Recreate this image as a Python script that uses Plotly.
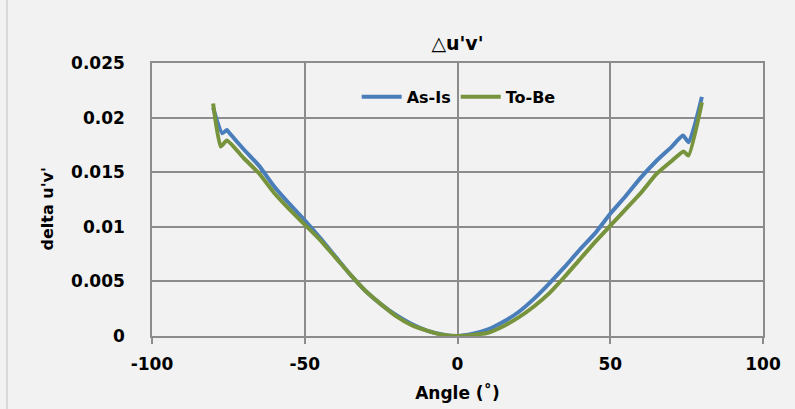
import plotly.graph_objects as go

# Angle (degrees) and delta u'v' values
as_is_angle = [-80, -77, -75.5, -75, -70, -65, -60, -55, -50, -45, -40, -35, -30, -25, -20, -15, -10, -5, 0,
               5, 10, 15, 20, 25, 30, 35, 40, 45, 50, 55, 60, 65, 70, 73.8, 75.7, 80]
as_is_val = [0.0209, 0.01856, 0.01887, 0.0187, 0.0171, 0.0156, 0.0137, 0.0121, 0.0106, 0.0090, 0.0073, 0.0056,
             0.0041, 0.0029, 0.0019, 0.0011, 0.0005, 0.00015, 0.0,
             0.0002, 0.0006, 0.0013, 0.0022, 0.0034, 0.0048, 0.0063, 0.0079, 0.0094, 0.0112, 0.0128, 0.0145,
             0.0160, 0.0173, 0.01835, 0.01774, 0.0219]

to_be_angle = [-80, -77.5, -75.5, -70, -65, -60, -55, -50, -45, -40, -35, -30, -25, -20, -15, -10, -5, 0,
               5, 10, 15, 20, 25, 30, 35, 40, 45, 50, 55, 60, 65, 70, 74, 75.6, 80]
to_be_val = [0.0213, 0.01735, 0.0179, 0.0163, 0.0149, 0.0131, 0.0116, 0.0102, 0.0088, 0.0072, 0.0056, 0.0041,
             0.0029, 0.0018, 0.0010, 0.0005, 0.00012, 0.0,
             0.0001, 0.0003, 0.0009, 0.0017, 0.0027, 0.0039, 0.0054, 0.0070, 0.0086, 0.0101, 0.0116, 0.0131,
             0.0148, 0.0160, 0.0169, 0.01653, 0.0214]

series_names = ["As-Is", "To-Be"]
x_ticks = [-100, -50, 0, 50, 100]
y_ticks = [0, 0.005, 0.01, 0.015, 0.02, 0.025]
y_tick_text = ["0", "0.005", "0.01", "0.015", "0.02", "0.025"]

FONT = "DejaVu Sans"
GRID = "#8c8c8c"
BG = "#f2f2f2"

fig = go.Figure()
fig.add_trace(go.Scatter(x=as_is_angle, y=as_is_val, mode="lines", name=series_names[0],
                         line=dict(color="#4a7ebb", width=4, shape="spline", smoothing=0.5)))
fig.add_trace(go.Scatter(x=to_be_angle, y=to_be_val, mode="lines", name=series_names[1],
                         line=dict(color="#77933c", width=4, shape="spline", smoothing=0.5)))

fig.update_layout(
    width=795, height=409,
    paper_bgcolor=BG, plot_bgcolor=BG,
    margin=dict(l=152, r=32, t=63, b=73),
    font=dict(family=FONT, color="black"),
    title=dict(text="<b>△u'v'</b>", x=0.5, xref="paper", y=1 - 43 / 409, yanchor="middle",
               font=dict(family=FONT, size=19, color="black")),
    legend=dict(orientation="h", x=0.335, y=0.876, xanchor="left", yanchor="middle",
                bgcolor="rgba(0,0,0,0)", font=dict(family=FONT, size=16, color="black", weight="bold"),
                itemwidth=40),
    showlegend=True,
)

fig.update_xaxes(
    range=[-100, 100], tickvals=x_ticks, ticktext=[str(v) for v in x_ticks],
    showgrid=True, gridcolor=GRID, gridwidth=1.5,
    showline=True, linecolor=GRID, linewidth=1.5, mirror=True,
    ticks="outside", ticklen=6, tickcolor=GRID, tickwidth=1.5,
    zeroline=False, ticklabelstandoff=6, automargin=False,
    tickfont=dict(family=FONT, size=17, color="black", weight="bold"),
    title=dict(text="<b>Angle (˚)</b>", font=dict(family=FONT, size=17, color="black"), standoff=14),
)
fig.update_yaxes(
    range=[0, 0.025], tickvals=y_ticks, ticktext=y_tick_text,
    showgrid=True, gridcolor=GRID, gridwidth=1.5,
    showline=True, linecolor=GRID, linewidth=1.5, mirror=True,
    ticks="", zeroline=False, automargin=False,
    ticklabelstandoff=22,
    tickfont=dict(family=FONT, size=17, color="black", weight="bold"),
)

# y-axis title placed as an annotation (slightly below plot centre, as in the reference)
fig.add_annotation(text="<b>delta u'v'</b>", textangle=-90, xref="paper", yref="paper",
                   x=(47 - 152) / 611, y=(336.5 - 210) / 273, xanchor="center", yanchor="middle",
                   showarrow=False, font=dict(family=FONT, size=16, color="black"))

# faint outer chart border on the left
fig.add_shape(type="line", xref="paper", yref="paper",
              x0=(7 - 152) / 611, x1=(7 - 152) / 611, y0=-73 / 273, y1=1 + 63 / 273,
              line=dict(color="#d0d0d0", width=1.5))

fig.write_html("out.html", config={"displayModeBar": False},
               post_script="document.body.style.margin='0';document.body.style.background='#f2f2f2';")
